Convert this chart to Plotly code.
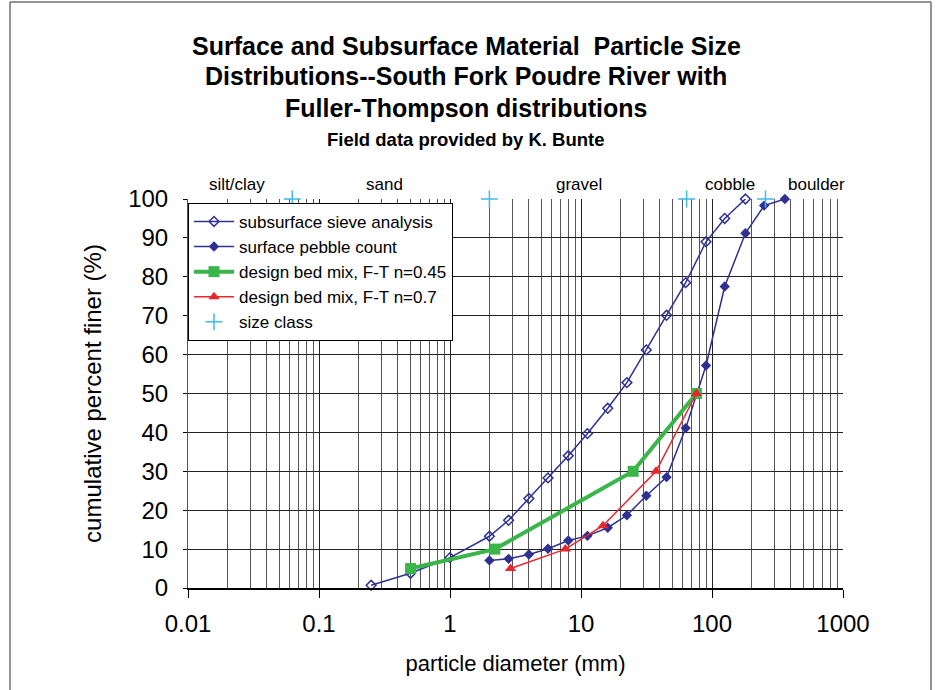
import plotly.graph_objects as go

# ---- data ----
sub_d = [0.25, 0.5, 1, 2, 2.8, 4, 5.6, 8, 11.2, 16, 22.4, 31.5, 45, 63, 90, 125, 180]
sub_p = [0.7, 3.8, 7.8, 13.3, 17.4, 23, 28.3, 34, 39.7, 46.2, 52.8, 61.2, 70.1, 78.5, 89, 95, 100]

surf_d = [2, 2.8, 4, 5.6, 8, 11.2, 16, 22.4, 31.5, 45, 63, 90, 125, 180, 250, 360]
surf_p = [7.1, 7.5, 8.6, 10.1, 12.2, 13.4, 15.5, 18.7, 23.7, 28.5, 41.1, 57.2, 77.5, 91.2, 98.3, 100]

ft045_d = [0.5, 2.2, 25, 76]
ft045_p = [5, 10, 30, 50]

ft07_d = [2.9, 7.6, 14.7, 37.4, 76]
ft07_p = [5, 10, 16, 30, 50]

class_d = [0.0625, 2, 64, 256]
class_p = [100, 100, 100, 100]

class_names = ["silt/clay", "sand", "gravel", "cobble", "boulder"]

x_tickvals = [0.01, 0.1, 1, 10, 100, 1000]
x_ticktext = ["0.01", "0.1", "1", "10", "100", "1000"]
y_tickvals = [0, 10, 20, 30, 40, 50, 60, 70, 80, 90, 100]

navy = "#2E3192"
green = "#39B54A"
red = "#E8262D"
cyan = "#3DB9EC"

fig = go.Figure()
fig.add_trace(go.Scatter(x=sub_d, y=sub_p, mode="lines+markers", name="subsurface sieve analysis",
                         line=dict(color=navy, width=1.5),
                         marker=dict(symbol="diamond-open", size=7.5, color=navy, line=dict(width=1.5, color=navy)),
                         cliponaxis=False))
fig.add_trace(go.Scatter(x=surf_d, y=surf_p, mode="lines+markers", name="surface pebble count",
                         line=dict(color=navy, width=1.5),
                         marker=dict(symbol="diamond", size=8, color=navy),
                         cliponaxis=False))
fig.add_trace(go.Scatter(x=ft045_d, y=ft045_p, mode="lines+markers", name="design bed mix, F-T n=0.45",
                         line=dict(color=green, width=4),
                         marker=dict(symbol="square", size=11, color=green),
                         cliponaxis=False))
fig.add_trace(go.Scatter(x=ft07_d, y=ft07_p, mode="lines+markers", name="design bed mix, F-T n=0.7",
                         line=dict(color=red, width=1.5),
                         marker=dict(symbol="triangle-up", size=10, color=red),
                         cliponaxis=False))
fig.add_trace(go.Scatter(x=class_d, y=class_p, mode="markers", name="size class",
                         marker=dict(symbol="cross-thin", size=12, color=cyan, line=dict(width=1.5, color=cyan)),
                         cliponaxis=False))

font_fam = "Arial, Liberation Sans, sans-serif"

fig.update_layout(
    width=936, height=690,
    margin=dict(l=188, r=93, t=199, b=102),
    paper_bgcolor="white", plot_bgcolor="white",
    font=dict(family=font_fam, color="black"),
    showlegend=True,
    legend=dict(x=0, y=0.99, xanchor="left", yanchor="top",
                bgcolor="white", bordercolor="black", borderwidth=1,
                font=dict(size=17, family=font_fam, color="black"),
                itemwidth=40, tracegroupgap=0),
)

fig.update_xaxes(type="log", range=[-2, 3],
                 tickmode="array", tickvals=x_tickvals, ticktext=x_ticktext,
                 tickfont=dict(size=24), ticks="outside", ticklen=8, tickcolor="black",
                 ticklabelstandoff=5,
                 showgrid=True, gridcolor="#222222", gridwidth=1,
                 minor=dict(dtick="D1", showgrid=True, gridcolor="#555555", gridwidth=1, ticks=""),
                 showline=True, linecolor="black", linewidth=1.5,
                 zeroline=False, mirror=False,
                 title=dict(text="particle diameter (mm)", font=dict(size=22), standoff=20))

fig.update_yaxes(range=[0, 100], tickmode="array", tickvals=y_tickvals,
                 tickfont=dict(size=24), ticks="outside", ticklen=4, tickcolor="black",
                 ticklabelstandoff=10,
                 showgrid=True, gridcolor="#222222", gridwidth=1,
                 showline=True, linecolor="#555555", linewidth=1,
                 zeroline=False,
                 title=dict(text="cumulative percent finer (%)", font=dict(size=24), standoff=19))

# size class labels above plot (x in log10 units)
class_label_x = [-1.625, -0.50, 0.987, 2.136, 2.795]
for name, lx in zip(class_names, class_label_x):
    fig.add_annotation(x=lx, y=1.036, xref="x", yref="paper", text=name, showarrow=False,
                       font=dict(size=17, family=font_fam, color="black"), xanchor="center", yanchor="middle")

# title lines
title_lines = [
    ("Surface and Subsurface Material  Particle Size", 46, 25),
    ("Distributions--South Fork Poudre River with", 76, 25),
    ("Fuller-Thompson distributions", 108, 25),
    ("Field data provided by K. Bunte", 139, 18.5),
]
plot_h = 389
for txt, ypx, sz in title_lines:
    fig.add_annotation(x=(466 - 188) / 655, y=(588 - ypx) / plot_h, xref="paper", yref="paper",
                       text="<b>" + txt.replace("  ", "&nbsp; ") + "</b>", showarrow=False,
                       font=dict(size=sz, family=font_fam, color="black"),
                       xanchor="center", yanchor="middle")

# outer frame
fx0, fx1 = (10 - 188) / 655, (931 - 188) / 655
fy_top = (588 - 2) / plot_h
fy_bot = (588 - 700) / plot_h
for (x0, y0, x1, y1) in [(fx0, fy_bot, fx0, fy_top), (fx0, fy_top, fx1, fy_top), (fx1, fy_top, fx1, fy_bot)]:
    fig.add_shape(type="line", xref="paper", yref="paper", x0=x0, y0=y0, x1=x1, y1=y1,
                  line=dict(color="#707070", width=1.5))

fig.write_html("out.html", config={"displayModeBar": False},
               post_script="document.body.style.margin='0';")
